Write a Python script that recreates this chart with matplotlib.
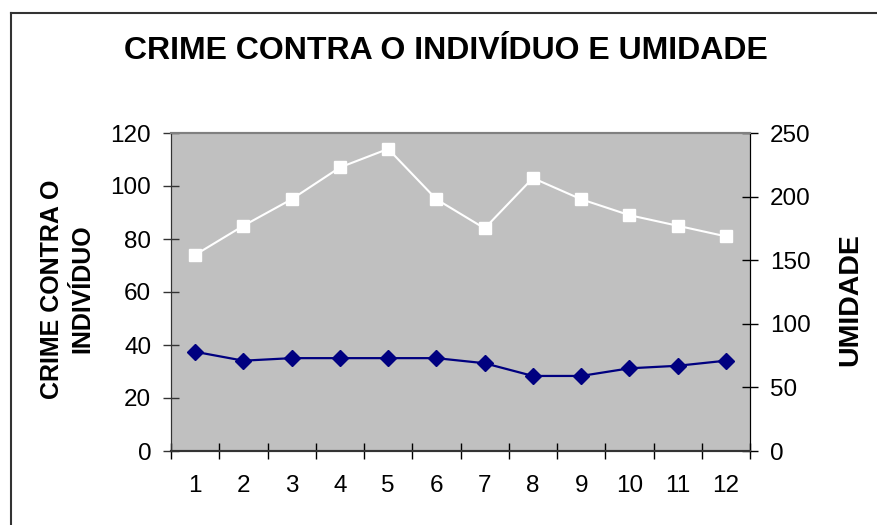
import matplotlib.pyplot as plt
from matplotlib.lines import Line2D

plt.rcParams['font.family'] = ['Liberation Sans', 'DejaVu Sans']

# data
months = [1, 2, 3, 4, 5, 6, 7, 8, 9, 10, 11, 12]
crime = [74, 85, 95, 107, 114, 95, 84, 103, 95, 89, 85, 81]
umidade = [78, 71, 73, 73, 73, 73, 69, 59, 59, 65, 67, 71]

W, H = 877, 525
fig = plt.figure(figsize=(W / 100, H / 100), dpi=100)
ax = fig.add_axes([171 / W, 1 - 451 / H, (750 - 171) / W, (451 - 133) / H])
ax.set_facecolor('#C0C0C0')

ax.plot(months, crime, color='white', linewidth=1.5, marker='s',
        markersize=8.5, markerfacecolor='white', markeredgecolor='white',
        zorder=3)

ax2 = ax.twinx()
ax2.plot(months, umidade, color='#000080', linewidth=1.6, marker='D',
         markersize=8.5, markerfacecolor='#000080', markeredgecolor='#000080',
         zorder=3)

ax.set_xlim(0.5, 12.5)
ax.set_ylim(0, 120)
ax.set_yticks(range(0, 121, 20))
ax2.set_ylim(0, 250)
ax2.set_yticks(range(0, 251, 50))

# category ticks between the points, labels at the points
ax.set_xticks([m - 0.5 for m in months] + [12.5])
ax.set_xticklabels([])
ax.set_xticks(months, minor=True)
ax.set_xticklabels([str(m) for m in months], minor=True)
ax.tick_params(axis='x', which='major', direction='inout', length=11.5, width=1)
ax.tick_params(axis='x', which='minor', length=0, pad=17, labelsize=17.5)
ax.tick_params(axis='y', direction='inout', length=11.5, width=1, pad=8.5,
               labelsize=17.5, color='#333333')
ax2.tick_params(axis='y', direction='inout', length=11.5, width=1, pad=8.5,
                labelsize=17.5)

for a in (ax, ax2):
    a.spines['left'].set_color('#333333')
    a.spines['bottom'].set_color('#333333')
    a.spines['top'].set_color('#808080')
    a.spines['right'].set_color('black')
    a.spines['bottom'].set_linewidth(1.5)
    a.spines['top'].set_linewidth(1.5)

fig.text(446 / W, 1 - 51 / H, 'CRIME CONTRA O INDIVÍDUO E UMIDADE',
         ha='center', va='center', fontsize=23, fontweight='bold')
fig.text(67 / W, 1 - 289 / H, 'CRIME CONTRA O\nINDIVÍDUO', rotation=90,
         ha='center', va='center', multialignment='center',
         fontsize=18, fontweight='bold', linespacing=1.35)
fig.text(850 / W, 1 - 300 / H, 'UMIDADE', rotation=90,
         ha='center', va='center', fontsize=20.5, fontweight='bold')

# outer chart border (only left and top visible)
fig.add_artist(Line2D([11 / W, 11 / W], [0, 1 - 13 / H], color='#333333',
                      linewidth=1.5, transform=fig.transFigure))
fig.add_artist(Line2D([11 / W, 1], [1 - 13 / H, 1 - 13 / H], color='#333333',
                      linewidth=1.5, transform=fig.transFigure))

fig.savefig('out.png', dpi=100)
